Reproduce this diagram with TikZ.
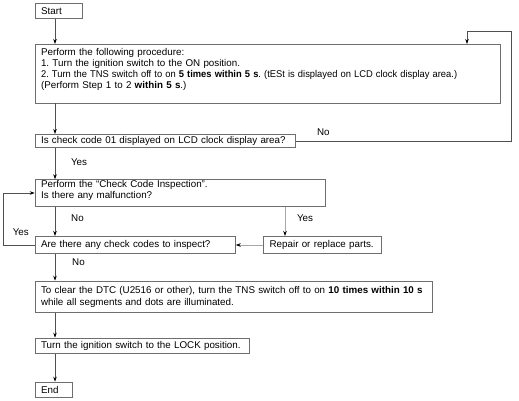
\documentclass[tikz,border=0pt]{standalone}
\usepackage{fontspec}
\usepackage{graphicx}
\setmainfont{Liberation Sans}
\usetikzlibrary{arrows.meta}
\definecolor{boxgray}{HTML}{6E6E6E}
\definecolor{linegray}{HTML}{505050}
\definecolor{lightline}{HTML}{A8A8A8}
\frenchspacing
\begin{document}
\begin{tikzpicture}[x=1pt,y=-1pt,
  box/.style={draw=boxgray, line width=0.7pt, anchor=north west, inner xsep=6pt, inner ysep=0pt, align=left, font=\fontsize{9.8}{11}\selectfont},
  arr/.style={draw=linegray, line width=0.7pt, -{Stealth[length=5pt,width=3.5pt,color=black]}},
  arrg/.style={draw=lightline, line width=1pt, -{Stealth[length=5pt,width=3.5pt,color=black]}},
  lbl/.style={font=\fontsize{9.8}{10}\selectfont, inner sep=0pt}]
\useasboundingbox (0,0) rectangle (519,401);
% boxes
\node[box, text width=35pt, minimum height=15pt] (start) at (34.7,3) {Start};
\node[box, text width=453.3pt, inner ysep=3pt, text height=8pt, text depth=44.7pt, font=\fontsize{9.8}{10.9}\selectfont] (proc) at (34.7,44)
 {Perform the following procedure:\\
  1. Turn the ignition switch to the ON position.\\
  \mbox{\scalebox{0.955}[1]{2. Turn the TNS switch off to on \textbf{5 times within 5 s}. (tESt is displayed on LCD clock display area.)}}\\
  (Perform Step 1 to 2 \textbf{within 5 s}.)};
\node[box, text width=248.3pt, minimum height=13.3pt] (q1) at (34.7,134) {\mbox{Is check code 01 displayed on LCD clock display area?}};
\node[box, text width=278.3pt, text height=8.2pt, text depth=18.5pt, font=\fontsize{9.8}{10.7}\selectfont] (insp) at (34.7,179.3)
 {Perform the ``Check Code Inspection''.\\ Is there any malfunction?};
\node[box, text width=188.3pt, minimum height=17.3pt] (q2) at (34.7,236) {\mbox{Are there any check codes to inspect?}};
\node[box, text width=105.7pt, minimum height=17.3pt] (rep) at (263.3,236) {\mbox{Repair or replace parts.}};
\node[box, text width=385pt, minimum height=31.6pt, font=\fontsize{9.8}{12.7}\selectfont] (clear) at (34.7,280.7)
 {\mbox{To clear the DTC (U2516 or other), turn the TNS switch off to on \textbf{10 times within 10 s}}\\ while all segments and dots are illuminated.};
\node[box, text width=202.6pt, minimum height=15.6pt] (lock) at (34.7,337.7) {\mbox{Turn the ignition switch to the LOCK position.}};
\node[box, text width=25.6pt, minimum height=15.6pt] (end) at (34.7,381.7) {End};
% helper coordinates
\coordinate (sx) at (55,0);
\coordinate (rx) at (285,0);
\coordinate (lr) at (511.7,31.7);
\coordinate (lt) at (467,31.7);
\coordinate (lx) at (3,0);
% connectors
\draw[arr] (start.south -| sx) -- (proc.north -| sx);
\draw[arr] (proc.south -| sx) -- (q1.north -| sx);
\draw[arr] (q1.east) -- (q1.east -| lr) -- (lr) -- (lt) -- (proc.north -| lt);
\draw[arr] (q1.south -| sx) -- (insp.north -| sx);
\draw[arr] (insp.south -| sx) -- (q2.north -| sx);
\draw[arrg] (insp.south -| rx) -- (rep.north -| rx);
\draw[arrg] (rep.west) -- (q2.east);
\draw[arr] (q2.west) -- (q2.west -| lx) |- (insp.west);
\draw[arr] (q2.south -| sx) -- (clear.north -| sx);
\draw[arr] (clear.south -| sx) -- (lock.north -| sx);
\draw[arr] (lock.south -| sx) -- (end.north -| sx);
% labels
\node[lbl] (l1) at (323.3,131.7) {No};
\node[lbl] (l2) at (79,162.3) {Yes};
\node[lbl] (l3) at (77.5,218.3) {No};
\node[lbl] (l4) at (305,218.3) {Yes};
\node[lbl] (l5) at (20.8,231.7) {Yes};
\node[lbl] (l6) at (78.5,262.3) {No};
\end{tikzpicture}
\end{document}
